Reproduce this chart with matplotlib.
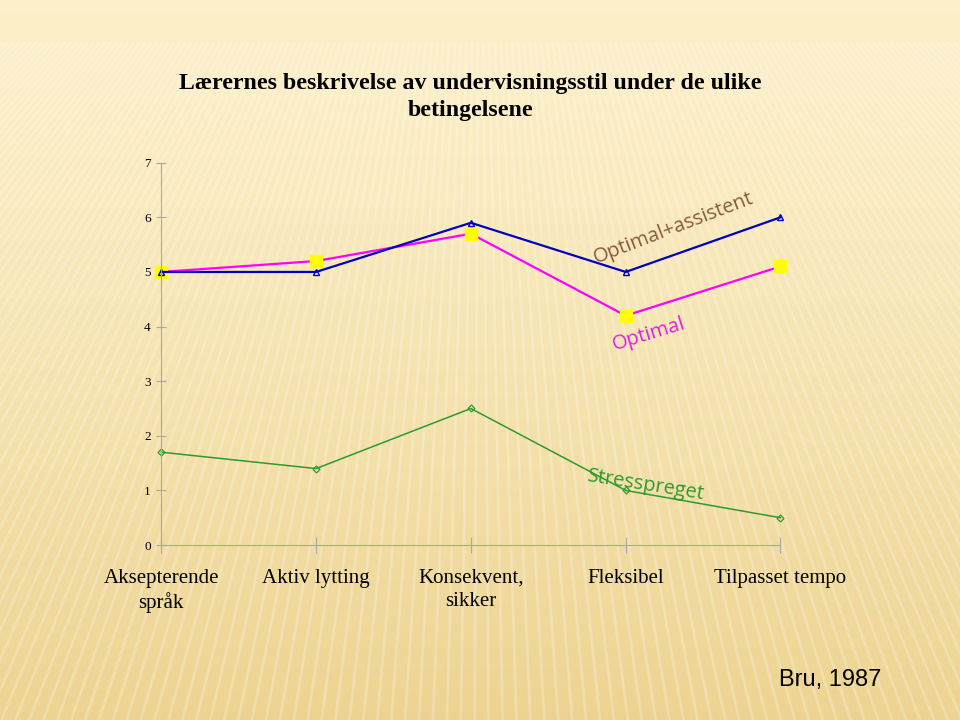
import matplotlib.pyplot as plt
import numpy as np

categories = ["Aksepterende\nspråk", "Aktiv lytting", "Konsekvent,\nsikker",
              "Fleksibel", "Tilpasset tempo"]
optimal_assistent = [5.0, 5.0, 5.9, 5.0, 6.0]
optimal = [5.0, 5.2, 5.7, 4.2, 5.1]
stresspreget = [1.7, 1.4, 2.5, 1.0, 0.5]

fig = plt.figure(figsize=(9.6, 7.2), dpi=100)

# background: pale yellow gradient with faint rays
bg = fig.add_axes([0, 0, 1, 1], zorder=-10)
top = np.array([0.99, 0.94, 0.79])
bottom = np.array([0.93, 0.83, 0.57])
t = np.linspace(0, 1, 256)[:, None]
grad = top * (1 - t**1.2) + bottom * t**1.2
grad = np.repeat(grad[:, None, :], 2, axis=1)
bg.imshow(grad, aspect="auto", extent=[0, 1, 0, 1], origin="upper")
y_top, apex = 0.94, 1.6
for xs in np.arange(-3.0, 4.0, 0.0145):
    x0 = 0.5 + (xs - 0.5) * (apex - y_top) / apex
    bg.plot([x0, xs], [y_top, 0], color="white", alpha=0.22, lw=2.0)
bg.set_xlim(0, 1)
bg.set_ylim(0, 1)
bg.axis("off")

ax = fig.add_axes([0.168, 0.243, 0.645, 0.531])
ax.patch.set_alpha(0)
x = np.arange(len(categories))

ax.plot(x, stresspreget, color="#2E9B2E", lw=1.1, marker="D", ms=3.5,
        mfc="none", mec="#2E9B2E", mew=0.9, clip_on=False)
ax.plot(x, optimal, color="#FF00FF", lw=1.6, marker="s", ms=8,
        mfc="#FFFF00", mec="#FFFF00", clip_on=False)
ax.plot(x, optimal_assistent, color="#0000C0", lw=1.6, marker="^", ms=5,
        mfc="none", mec="#0000C0", mew=1, clip_on=False)

ax.set_xlim(0, 4)
ax.set_ylim(0, 7)
ax.set_yticks(range(8))
ax.set_xticks(x)
ax.set_xticklabels(categories, family="Liberation Serif", fontsize=15,
                   linespacing=1.3)
ax.tick_params(axis="y", labelsize=9.5, direction="inout", length=7,
               color="#A8A8A8", pad=4)
ax.tick_params(axis="x", direction="inout", length=12, color="#A8A8A8",
               pad=11)
for lab in ax.get_yticklabels():
    lab.set_family("Liberation Serif")
ax.spines["top"].set_visible(False)
ax.spines["right"].set_visible(False)
ax.spines["left"].set_color("#A8A8A8")
ax.spines["bottom"].set_color("#A8A8A8")

ax.text(3.31, 5.8, "Optimal+assistent", color="#8B5A3A", fontsize=14.5,
        rotation=21, ha="center", va="center", family="Open Sans")
ax.text(3.15, 3.85, "Optimal", color="#E020E0", fontsize=14.5,
        rotation=17, ha="center", va="center", family="Open Sans")
ax.text(3.13, 1.1, "Stresspreget", color="#2E9B2E", fontsize=14.5,
        rotation=-9, ha="center", va="center", family="Open Sans")

fig.text(0.49, 0.865, "Lærernes beskrivelse av undervisningsstil under de ulike\nbetingelsene",
         ha="center", va="center", fontsize=17.2, fontweight="bold",
         family="Liberation Serif", linespacing=1.4)
fig.text(0.865, 0.056, "Bru, 1987", ha="center", va="center", fontsize=17,
         family="Liberation Sans")

fig.savefig("out.png", dpi=100)
